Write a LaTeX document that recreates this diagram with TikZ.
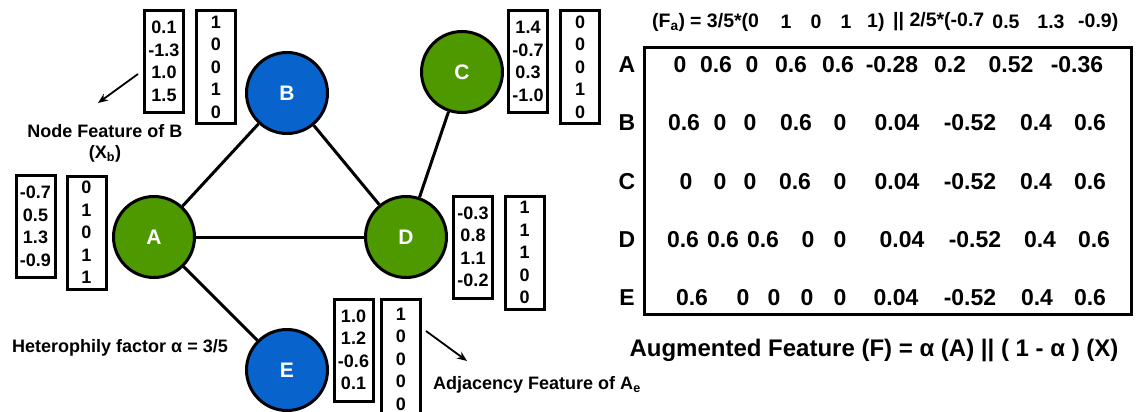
\documentclass[tikz,border=0pt]{standalone}
\usepackage{fontspec}
\setmainfont{Liberation Sans}
\usetikzlibrary{arrows.meta}
\definecolor{nblue}{RGB}{8,100,204}
\definecolor{ngreen}{RGB}{78,152,0}
\tikzset{
  gnode/.style={circle, draw=black, line width=3pt, minimum size=81pt, inner sep=0pt,
    text=white, font=\fontsize{21}{21}\selectfont\bfseries},
  vbox/.style={draw=black, line width=3pt, inner sep=0pt, align=center,
    font=\fontsize{18}{22.5}\selectfont\bfseries},
  fbox/.style={vbox, minimum width=39pt, minimum height=102pt},
  abox/.style={vbox, minimum width=39pt, minimum height=113pt},
  gedge/.style={line width=3pt, draw=black},
  arr/.style={line width=1.8pt, -{Stealth[length=10pt,width=8pt]}},
  lbl/.style={inner sep=0pt, font=\fontsize{18}{22}\selectfont\bfseries},
  hdr/.style={inner sep=0pt, font=\fontsize{19.5}{22}\selectfont\bfseries},
  mtxt/.style={inner sep=0pt, font=\fontsize{23}{23}\selectfont\bfseries},
}
\begin{document}
\begin{tikzpicture}[x=1pt,y=-1pt]
\useasboundingbox (0,0) rectangle (1138,412);
% graph nodes
\node[gnode, fill=nblue]  (B) at (287,93)  {B};
\node[gnode, fill=ngreen] (A) at (154,237) {A};
\node[gnode, fill=ngreen] (C) at (462,72)  {C};
\node[gnode, fill=ngreen] (D) at (406,237) {D};
\node[gnode, fill=nblue]  (E) at (287,370) {E};
\draw[gedge] (A) -- (B);
\draw[gedge] (A) -- (D);
\draw[gedge] (A) -- (E);
\draw[gedge] (B) -- (D);
\draw[gedge] (C) -- (D);
% feature boxes
\node[fbox] (Bf) at (164,61.5) {0.1\\-1.3\\1.0\\1.5};
\node[abox] (Ba) at (216,67) {1\\0\\0\\1\\0};
\node[fbox] (Af) at (35.5,226.5) {-0.7\\0.5\\1.3\\-0.9};
\node[abox] (Aa) at (86.5,232.5) {0\\1\\0\\1\\1};
\node[fbox] (Cf) at (528,61.5) {1.4\\-0.7\\0.3\\-1.0};
\node[abox] (Ca) at (580,67) {0\\0\\0\\1\\0};
\node[fbox] (Df) at (473,247) {-0.3\\0.8\\1.1\\-0.2};
\node[abox] (Da) at (524.5,252.5) {1\\1\\1\\0\\0};
\node[fbox] (Ef) at (353.5,350) {1.0\\1.2\\-0.6\\0.1};
\node[abox, minimum height=119pt] (Ea) at (401,359) {1\\0\\0\\0\\0};
% labels and arrows
\coordinate (bs) at (138,74);
\coordinate (bt) at (98,103);
\draw[arr] (bs) -- (bt);
\node[lbl] (nfb) at (105,131) {Node Feature of B};
\node[lbl] (xb) at (105,154) {(X\textsubscript{b})};
\node[lbl] (het) at (120,348) {Heterophily factor α = 3/5};
\coordinate (es) at (426,331);
\coordinate (et) at (467,361);
\draw[arr] (es) -- (et);
\node[lbl, anchor=west] (adj) at (433,385) {Adjacency Feature of A\textsubscript{e}};
% header
\node[hdr, anchor=west] (h1) at (652,22) {(F\textsubscript{a})};
\node[hdr, anchor=west] (h2) at (690,22) {= 3/5*(0};
\node[hdr] (h3) at (786,22) {1};
\node[hdr] (h4) at (816,22) {0};
\node[hdr] (h5) at (846,22) {1};
\node[hdr, anchor=west] (h6) at (867,22) {1)};
\node[hdr, anchor=west] (h7) at (893,22) {|| 2/5*(-0.7};
\node[hdr] (h8) at (1006,22) {0.5};
\node[hdr] (h9) at (1051,22) {1.3};
\node[hdr, anchor=west] (h10) at (1078,22) {-0.9)};
% matrix
\draw[line width=3pt] (644,48) rectangle (1131,314);
\foreach \r/\y in {A/65,B/123,C/182,D/240,E/298}
  \node[mtxt] (lab\r) at (627,\y) {\r};
\foreach \x/\v [count=\i] in {680/0,716/0.6,752/0,791/0.6,838/0.6,892/-0.28,950/0.2,1011/0.52,1077/-0.36}
  \node[mtxt] (mA\i) at (\x,65) {\v};
\foreach \x/\v [count=\i] in {684/0.6,720/0,750/0,796/0.6,840/0,897/0.04,970/-0.52,1036/0.4,1090/0.6}
  \node[mtxt] (mB\i) at (\x,123) {\v};
\foreach \x/\v [count=\i] in {686/0,720/0,750/0,795/0.6,840/0,897/0.04,970/-0.52,1036/0.4,1090/0.6}
  \node[mtxt] (mC\i) at (\x,182) {\v};
\foreach \x/\v [count=\i] in {683/0.6,723/0.6,763/0.6,808/0,840/0,902/0.04,975/-0.52,1040/0.4,1094/0.6}
  \node[mtxt] (mD\i) at (\x,240) {\v};
\foreach \x/\v [count=\i] in {692/0.6,743/0,774/0,807/0,840/0,896/0.04,970/-0.52,1037/0.4,1090/0.6}
  \node[mtxt] (mE\i) at (\x,298) {\v};
\node[inner sep=0pt, font=\fontsize{24}{24}\selectfont\bfseries] (aug) at (874,350)
  {Augmented Feature (F) = α (A) || ( 1 - α ) (X)};
\end{tikzpicture}
\end{document}
